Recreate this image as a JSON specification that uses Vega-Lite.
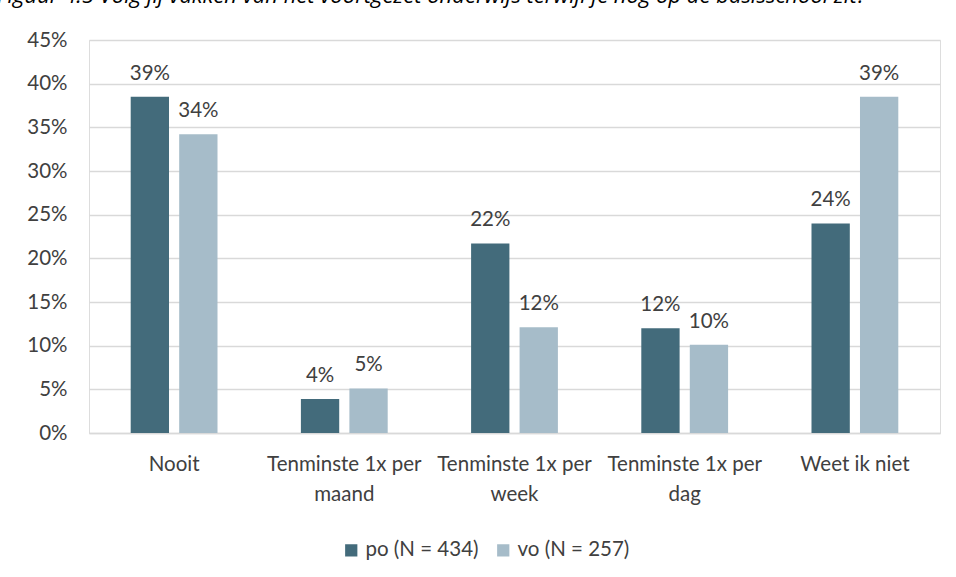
{
  "$schema": "https://vega.github.io/schema/vega-lite/v6.json",
  "autosize": "none",
  "width": 851,
  "height": 393,
  "padding": {"left": 89, "top": 40, "right": 16, "bottom": 144},
  "background": "white",
  "title": {
    "text": "Figuur 4.5 Volg jij vakken van het voortgezet onderwijs terwijl je nog op de basisschool zit?",
    "anchor": "start",
    "frame": "group",
    "dx": -92,
    "offset": 0,
    "baseline": "bottom",
    "font": "Open Sans",
    "fontStyle": "italic",
    "fontWeight": "normal",
    "fontSize": 22,
    "color": "#000000"
  },
  "data": {
    "values": [
      {"cat": "Nooit", "groep": "po (N = 434)", "pct": 0.385},
      {"cat": "Nooit", "groep": "vo (N = 257)", "pct": 0.342},
      {"cat": "Tenminste 1x per maand", "groep": "po (N = 434)", "pct": 0.039},
      {"cat": "Tenminste 1x per maand", "groep": "vo (N = 257)", "pct": 0.051},
      {"cat": "Tenminste 1x per week", "groep": "po (N = 434)", "pct": 0.217},
      {"cat": "Tenminste 1x per week", "groep": "vo (N = 257)", "pct": 0.121},
      {"cat": "Tenminste 1x per dag", "groep": "po (N = 434)", "pct": 0.12},
      {"cat": "Tenminste 1x per dag", "groep": "vo (N = 257)", "pct": 0.101},
      {"cat": "Weet ik niet", "groep": "po (N = 434)", "pct": 0.24},
      {"cat": "Weet ik niet", "groep": "vo (N = 257)", "pct": 0.385}
    ]
  },
  "encoding": {
    "x": {
      "field": "cat",
      "type": "nominal",
      "sort": null,
      "title": null,
      "scale": {"paddingInner": 0.49, "paddingOuter": 0.245},
      "axis": {
        "labelAngle": 0,
        "labelFont": "Lato",
        "labelFontSize": 20.5,
        "labelColor": "#404040",
        "labelLimit": 0,
        "labelOverlap": false,
        "labelPadding": 21,
        "labelLineHeight": 30,
        "ticks": false,
        "domainColor": "#d9d9d9",
        "domainWidth": 1.5,
        "labelExpr": "indexof(datum.label, ' per ') > 0 ? [slice(datum.label, 0, indexof(datum.label, ' per ') + 4), slice(datum.label, indexof(datum.label, ' per ') + 5)] : datum.label"
      }
    },
    "xOffset": {
      "field": "groep",
      "type": "nominal",
      "scale": {"paddingInner": 0.21, "paddingOuter": 0}
    },
    "y": {
      "field": "pct",
      "type": "quantitative",
      "title": null,
      "scale": {"domain": [0, 0.45], "nice": false},
      "axis": {
        "values": [0, 0.05, 0.1, 0.15, 0.2, 0.25, 0.3, 0.35, 0.4, 0.45],
        "format": ".0%",
        "labelFont": "Lato",
        "labelFontSize": 20.5,
        "labelColor": "#404040",
        "labelPadding": 22,
        "ticks": false,
        "domain": false,
        "gridColor": "#d9d9d9",
        "gridWidth": 1.5
      }
    }
  },
  "layer": [
    {
      "mark": {"type": "bar"},
      "encoding": {
        "color": {
          "field": "groep",
          "type": "nominal",
          "title": null,
          "scale": {"range": ["#436b7b", "#a6bcc9"]},
          "legend": {
            "orient": "none",
            "legendX": 252,
            "legendY": 500,
            "direction": "horizontal",
            "symbolType": "square",
            "symbolSize": 150,
            "symbolStrokeWidth": 0,
            "labelFont": "Lato",
            "labelFontSize": 20.5,
            "labelColor": "#404040",
            "labelOffset": 4,
            "columnPadding": 14
          }
        }
      }
    },
    {
      "mark": {
        "type": "text",
        "baseline": "middle",
        "dy": -23,
        "font": "Lato",
        "fontSize": 20.5,
        "color": "#404040"
      },
      "encoding": {
        "text": {"field": "pct", "type": "quantitative", "format": ".0%"}
      }
    }
  ]
}
